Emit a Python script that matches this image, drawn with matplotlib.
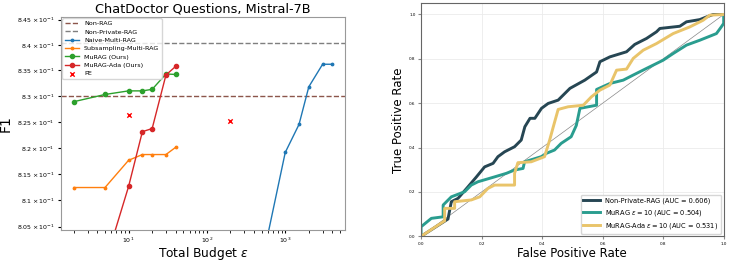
import matplotlib
matplotlib.use('Agg')
import matplotlib.pyplot as plt
import numpy as np

### Left panel data: F1 vs total privacy budget
non_rag_f1 = 0.8300
non_private_f1 = 0.8403

naive_eps = [500, 1000, 1500, 2000, 3000, 4000]
naive_f1 = [0.798, 0.8191, 0.8245, 0.8318, 0.8362, 0.8362]

subsamp_eps = [2, 5, 10, 15, 20, 30, 40]
subsamp_f1 = [0.8124, 0.8124, 0.8176, 0.8187, 0.8187, 0.8187, 0.8201]

murag_eps = [2, 5, 10, 15, 20, 30, 40]
murag_f1 = [0.8289, 0.8303, 0.8310, 0.8310, 0.8313, 0.8343, 0.8342]

ada_eps = [2, 5, 10, 15, 20, 30, 40]
ada_f1 = [0.780, 0.798, 0.8126, 0.8231, 0.8237, 0.8341, 0.8358]

pe_eps = [10, 200]
pe_f1 = [0.8264, 0.8251]

f1_ticks = [0.805, 0.81, 0.815, 0.82, 0.825, 0.83, 0.835, 0.84, 0.845]
f1_tick_labels = [r'$8.05\times10^{-1}$', r'$8.1\times10^{-1}$', r'$8.15\times10^{-1}$',
                  r'$8.2\times10^{-1}$', r'$8.25\times10^{-1}$', r'$8.3\times10^{-1}$',
                  r'$8.35\times10^{-1}$', r'$8.4\times10^{-1}$', r'$8.45\times10^{-1}$']

### Right panel data: ROC curves
npr_fpr = [0, 0.089, 0.10, 0.122, 0.155, 0.183, 0.21, 0.238, 0.254, 0.276, 0.309, 0.331,
           0.343, 0.36, 0.376, 0.398, 0.42, 0.453, 0.492, 0.541, 0.58, 0.591, 0.624, 0.679,
           0.706, 0.745, 0.778, 0.789, 0.855, 0.877, 0.921, 0.943, 0.965, 1.0]
npr_tpr = [0, 0.078, 0.156, 0.171, 0.223, 0.268, 0.313, 0.329, 0.359, 0.381, 0.404, 0.434,
           0.494, 0.532, 0.532, 0.577, 0.599, 0.614, 0.667, 0.704, 0.741, 0.787, 0.809, 0.832,
           0.865, 0.892, 0.922, 0.937, 0.947, 0.967, 0.977, 0.989, 1.0, 1.0]

murag_fpr = [0, 0, 0.034, 0.073, 0.073, 0.10, 0.144, 0.166, 0.188, 0.243, 0.282, 0.309,
             0.337, 0.342, 0.397, 0.414, 0.441, 0.463, 0.496, 0.513, 0.525, 0.58, 0.58,
             0.624, 0.668, 0.701, 0.745, 0.80, 0.833, 0.877, 0.921, 0.976, 0.992, 1.0, 1.0]
murag_tpr = [0, 0.043, 0.081, 0.088, 0.141, 0.178, 0.201, 0.231, 0.246, 0.268, 0.284, 0.299,
             0.306, 0.336, 0.359, 0.374, 0.389, 0.419, 0.449, 0.50, 0.577, 0.591, 0.662,
             0.689, 0.704, 0.727, 0.757, 0.794, 0.824, 0.862, 0.884, 0.914, 0.944, 0.96, 1.0]

ada_roc_fpr = [0, 0.078, 0.078, 0.111, 0.111, 0.166, 0.194, 0.221, 0.243, 0.309, 0.309,
               0.32, 0.364, 0.408, 0.425, 0.437, 0.453, 0.486, 0.536, 0.563, 0.591, 0.624,
               0.646, 0.679, 0.701, 0.734, 0.778, 0.833, 0.888, 0.932, 0.954, 1.0]
ada_roc_tpr = [0, 0.07, 0.126, 0.126, 0.156, 0.164, 0.178, 0.216, 0.231, 0.231, 0.284,
               0.332, 0.336, 0.359, 0.434, 0.494, 0.572, 0.584, 0.591, 0.629, 0.659, 0.682,
               0.749, 0.754, 0.802, 0.839, 0.869, 0.914, 0.944, 0.974, 0.997, 1.0]

roc_ticks = [0.0, 0.2, 0.4, 0.6, 0.8, 1.0]

fig = plt.figure(figsize=(7.31, 2.62), dpi=100)

### Left plot
ax1 = fig.add_axes([0.0834, 0.123, 0.389, 0.812])
ax1.axhline(non_rag_f1, color='#8c564b', ls='--', lw=1, label='Non-RAG')
ax1.axhline(non_private_f1, color='#7f7f7f', ls='--', lw=1, label='Non-Private-RAG')
ax1.plot(naive_eps, naive_f1, color='#1f77b4', marker='.', ms=3.5, lw=1, label='Naive-Multi-RAG')
ax1.plot(subsamp_eps, subsamp_f1, color='#ff7f0e', marker='.', ms=3.5, lw=1, label='Subsampling-Multi-RAG')
ax1.plot(murag_eps, murag_f1, color='#2ca02c', marker='o', ms=3, lw=1, label='MuRAG (Ours)')
ax1.plot(ada_eps, ada_f1, color='#d62728', marker='o', ms=3, lw=1, label='MuRAG-Ada (Ours)')
ax1.scatter(pe_eps, pe_f1, color='red', marker='x', s=10, lw=1, label='PE', zorder=3)
ax1.set_xscale('log')
ax1.set_yscale('log')
ax1.set_xlim(1.37, 5850)
ax1.set_ylim(0.8044, 0.8455)
ax1.yaxis.set_minor_locator(matplotlib.ticker.NullLocator())
ax1.set_yticks(f1_ticks)
ax1.set_yticklabels(f1_tick_labels)
ax1.tick_params(axis='both', which='both', labelsize=4.5, length=2.5, pad=2)
ax1.set_xlabel(r'Total Budget $\epsilon$', fontsize=8.8, labelpad=-0.5)
ax1.set_ylabel('F1', fontsize=10, labelpad=3)
ax1.set_title('ChatDoctor Questions, Mistral-7B', fontsize=9.3, pad=3)
ax1.legend(loc='upper left', fontsize=4.6, borderaxespad=0.2, handlelength=2.2, labelspacing=0.45)
for s in ax1.spines.values():
    s.set_color('#999999')

### Right plot
ax2 = fig.add_axes([0.576, 0.098, 0.414, 0.889])
ax2.plot([0, 1], [0, 1], color='#888888', lw=0.5)
ax2.plot(npr_fpr, npr_tpr, color='#264653', lw=2.1, label='Non-Private-RAG (AUC = 0.606)')
ax2.plot(murag_fpr, murag_tpr, color='#2a9d8f', lw=2.1, label=r'MuRAG $\epsilon=10$ (AUC = 0.504)')
ax2.plot(ada_roc_fpr, ada_roc_tpr, color='#e9c46a', lw=2.1, label=r'MuRAG-Ada $\epsilon=10$ (AUC = 0.531)')
ax2.set_xlim(0, 1)
ax2.set_ylim(0, 1.05)
ax2.set_xticks(roc_ticks)
ax2.set_yticks(roc_ticks)
ax2.tick_params(axis='both', labelsize=3, length=2, color='#888888', pad=2)
ax2.grid(color='#ebebeb', lw=0.6)
ax2.set_axisbelow(True)
ax2.set_xlabel('False Positive Rate', fontsize=8.5, labelpad=1)
ax2.set_ylabel('True Positive Rate', fontsize=8.5, labelpad=3)
for s in ax2.spines.values():
    s.set_color('#666666')
    s.set_linewidth(0.8)
ax2.legend(loc='lower right', fontsize=4.8, borderaxespad=0.4, handlelength=2.5)

plt.savefig('out.png', dpi=100)
